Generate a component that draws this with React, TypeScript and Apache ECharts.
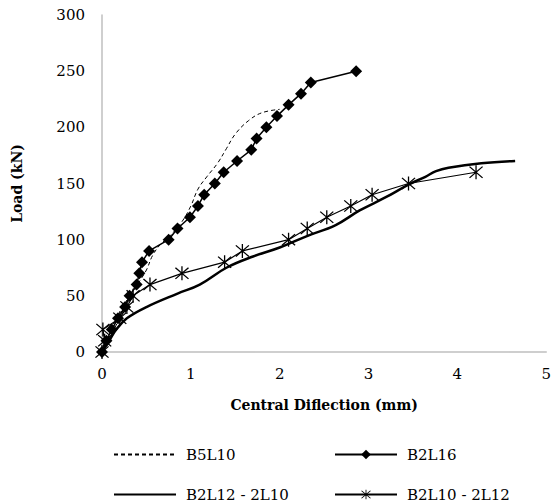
import React, { useEffect, useRef } from "react";
import * as echarts from "echarts";

const xTicks = [0, 1, 2, 3, 4, 5];
const yTicks = [0, 50, 100, 150, 200, 250, 300];

const seriesNames = ["B5L10", "B2L16", "B2L12 - 2L10", "B2L10 - 2L12"];

const b5l10: [number, number][] = [
  [0, 0], [0.1, 15], [0.2, 30], [0.3, 45], [0.4, 60], [0.5, 73], [0.57, 86],
  [0.66, 96], [0.76, 103], [0.9, 116], [1.0, 130], [1.08, 145], [1.18, 156],
  [1.3, 168], [1.4, 181], [1.5, 194], [1.65, 206], [1.8, 213], [2.0, 216],
];

const b2l16: [number, number][] = [
  [0, 0], [0.05, 10], [0.11, 20], [0.18, 30], [0.26, 40], [0.31, 50], [0.39, 60],
  [0.42, 70], [0.45, 80], [0.53, 90], [0.75, 100], [0.85, 110], [0.99, 120],
  [1.08, 130], [1.15, 140], [1.27, 150], [1.37, 160], [1.52, 170], [1.68, 180],
  [1.74, 190], [1.85, 200], [1.97, 210], [2.1, 220], [2.24, 230], [2.35, 240],
  [2.86, 250],
];

const b2l12: [number, number][] = [
  [0, 0], [0.08, 10], [0.16, 20], [0.28, 30], [0.5, 40], [0.85, 52], [1.1, 60],
  [1.4, 75], [1.7, 85], [2.0, 93], [2.3, 103], [2.63, 113], [2.9, 126],
  [3.2, 138], [3.45, 149], [3.64, 156], [3.76, 161], [3.9, 164], [4.27, 168],
  [4.65, 170],
];

const b2l10: [number, number][] = [
  [0, 0], [0.03, 10], [0.01, 20], [0.2, 30], [0.28, 40], [0.35, 50], [0.54, 60],
  [0.9, 70], [1.38, 80], [1.58, 90], [2.1, 100], [2.31, 110], [2.53, 120],
  [2.8, 130], [3.04, 140], [3.45, 150], [4.21, 160],
];

const asterisk =
  "path://M9.2,0 L10.8,0 L10.8,20 L9.2,20 Z " +
  "M2.57,1.43 L18.57,17.43 L17.43,18.57 L1.43,2.57 Z " +
  "M18.566,2.566 L2.566,18.566 L1.434,17.434 L17.434,1.434 Z";

const FONT = "DejaVu Serif";

export default function App() {
  const ref = useRef<HTMLDivElement>(null);
  useEffect(() => {
    document.body.style.margin = "0";
    if (!ref.current) return;
    const chart = echarts.init(ref.current, undefined, { renderer: "svg" });
    const legendBase = {
      itemWidth: 62,
      itemHeight: 12,
      textStyle: { fontFamily: FONT, fontSize: 15, color: "#000", padding: [0, 0, 0, 5] },
      selectedMode: false,
    };
    const noSymbol = { color: "rgba(0,0,0,0)", borderColor: "rgba(0,0,0,0)", borderWidth: 0 };
    chart.setOption({
      animation: false,
      backgroundColor: "#fff",
      grid: { left: 102, right: 6, top: 15, bottom: 152, containLabel: false },
      xAxis: {
        type: "value",
        min: 0,
        max: 5,
        interval: 1,
        name: "Central Diflection (mm)",
        nameLocation: "middle",
        nameGap: 46,
        nameTextStyle: { fontFamily: FONT, fontSize: 14, fontWeight: "bold", color: "#000" },
        axisLine: { show: true, lineStyle: { color: "#BFBFBF", width: 1.5 } },
        axisTick: { show: false },
        splitLine: { show: false },
        axisLabel: {
          fontFamily: FONT, fontSize: 15, color: "#000", margin: 14,
          formatter: (v: number) => (xTicks.includes(v) ? String(v) : ""),
        },
      },
      yAxis: {
        type: "value",
        min: 0,
        max: 300,
        interval: 50,
        name: "Load (kN)",
        nameLocation: "middle",
        nameGap: 78,
        nameTextStyle: { fontFamily: FONT, fontSize: 14, fontWeight: "bold", color: "#000" },
        axisLine: { show: true, lineStyle: { color: "#BFBFBF", width: 1.5 } },
        axisTick: { show: false },
        splitLine: { show: false },
        axisLabel: {
          fontFamily: FONT, fontSize: 15, color: "#000", margin: 17,
          formatter: (v: number) => (yTicks.includes(v) ? String(v) : ""),
        },
      },
      legend: [
        { ...legendBase, data: [seriesNames[0]], left: 108, top: 442, itemStyle: noSymbol },
        { ...legendBase, data: [seriesNames[1]], left: 329, top: 442 },
        { ...legendBase, data: [seriesNames[2]], left: 108, top: 482, itemStyle: noSymbol },
        { ...legendBase, data: [seriesNames[3]], left: 329, top: 482 },
      ],
      series: [
        {
          name: seriesNames[0],
          type: "line",
          data: b5l10,
          smooth: 0.4,
          symbol: "circle",
          showSymbol: false,
          lineStyle: { color: "#000", width: 1, type: [4, 3] },
          itemStyle: { color: "#000" },
          z: 1,
        },
        {
          name: seriesNames[1],
          type: "line",
          data: b2l16,
          symbol: "diamond",
          symbolSize: 12,
          lineStyle: { color: "#000", width: 1.5 },
          itemStyle: { color: "#000" },
          z: 3,
        },
        {
          name: seriesNames[2],
          type: "line",
          data: b2l12,
          smooth: 0.4,
          symbol: "circle",
          showSymbol: false,
          lineStyle: { color: "#000", width: 2.5 },
          itemStyle: { color: "#000" },
          z: 2,
        },
        {
          name: seriesNames[3],
          type: "line",
          data: b2l10,
          symbol: asterisk,
          symbolSize: 14,
          lineStyle: { color: "#000", width: 1.2 },
          itemStyle: { color: "#000" },
          z: 2,
        },
      ],
    });
    return () => chart.dispose();
  }, []);
  return <div ref={ref} style={{ width: 554, height: 504 }} />;
}
